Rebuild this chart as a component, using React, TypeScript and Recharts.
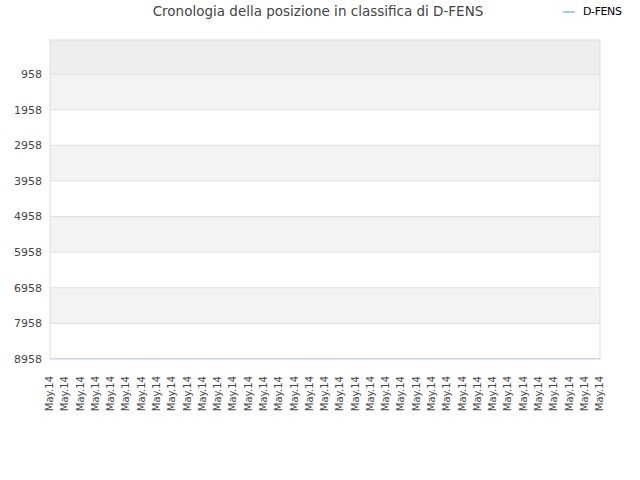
import React from 'react';
import { LineChart, Line, XAxis, YAxis, ReferenceArea, ReferenceLine } from 'recharts';

const dates: string[] = [
  'May.14','May.14','May.14','May.14','May.14','May.14','May.14','May.14','May.14','May.14',
  'May.14','May.14','May.14','May.14','May.14','May.14','May.14','May.14','May.14','May.14',
  'May.14','May.14','May.14','May.14','May.14','May.14','May.14','May.14','May.14','May.14',
  'May.14','May.14','May.14','May.14','May.14','May.14','May.14',
];
const positions: number[] = [
  8958,8958,8958,8958,8958,8958,8958,8958,8958,8958,
  8958,8958,8958,8958,8958,8958,8958,8958,8958,8958,
  8958,8958,8958,8958,8958,8958,8958,8958,8958,8958,
  8958,8958,8958,8958,8958,8958,8958,
];
const yTicks: number[] = [958, 1958, 2958, 3958, 4958, 5958, 6958, 7958, 8958];
const yDomain: [number, number] = [1, 8958];
const seriesName = 'D-FENS';
const title = 'Cronologia della posizione in classifica di D-FENS';

const data = dates.map((d, i) => ({ date: d, pos: positions[i] }));

const bandEdges = [yDomain[0], ...yTicks];
const bands = bandEdges.slice(0, -1).map((from, i) => ({
  y1: from,
  y2: bandEdges[i + 1],
  fill: i === 0 ? '#eeeeee' : i % 2 === 1 ? '#f3f3f3' : '#ffffff',
}));

const FONT = '"DejaVu Sans", Verdana, sans-serif';
const LINE_COLOR = '#a3ccf2';

export default function App() {
  return (
    <div style={{ position: 'absolute', left: 0, top: 0, width: 640, height: 480, background: '#fff' }}>
      <div
        style={{
          position: 'absolute',
          left: 0,
          top: 3,
          width: 636,
          textAlign: 'center',
          fontFamily: FONT,
          fontSize: 13.5,
          color: '#444',
          zIndex: 2,
        }}
      >
        {title}
      </div>
      <div
        style={{
          position: 'absolute',
          left: 563,
          top: 5,
          display: 'flex',
          alignItems: 'center',
          fontFamily: FONT,
          fontSize: 11,
          color: '#000',
          zIndex: 2,
        }}
      >
        <svg width={12} height={4} style={{ marginRight: 8 }}>
          <line x1={0} y1={2} x2={12} y2={2} stroke={LINE_COLOR} strokeWidth={2} />
        </svg>
        <span style={{ letterSpacing: '-0.4px' }}>{seriesName}</span>
      </div>
      <LineChart width={640} height={480} data={data} margin={{ top: 40, right: 40, left: 0, bottom: 71 }}>
        {bands.map((b, i) => (
          <ReferenceArea key={'b' + i} y1={b.y1} y2={b.y2} fill={b.fill} fillOpacity={1} stroke="none" ifOverflow="visible" />
        ))}
        {yTicks.map((t) => (
          <ReferenceLine key={'g' + t} y={t} stroke="#e0e0e0" strokeWidth={1} ifOverflow="visible" />
        ))}
        <ReferenceArea y1={yDomain[0]} y2={yDomain[1]} fill="none" stroke="#dddddd" strokeWidth={1} ifOverflow="visible" />
        <XAxis
          dataKey="date"
          interval={0}
          angle={-90}
          textAnchor="end"
          height={50}
          tickLine={false}
          axisLine={false}
          tick={{ fontSize: 10, fill: '#444', fontFamily: FONT, dx: -4, dy: 9 }}
        />
        <YAxis
          reversed
          domain={yDomain}
          ticks={yTicks}
          width={50}
          tickLine={false}
          axisLine={false}
          tick={{ fontSize: 11, fill: '#444', fontFamily: FONT }}
          allowDataOverflow
        />
        <Line
          type="linear"
          dataKey="pos"
          name={seriesName}
          stroke={LINE_COLOR}
          strokeWidth={1.2}
          dot={false}
          isAnimationActive={false}
        />
      </LineChart>
    </div>
  );
}
